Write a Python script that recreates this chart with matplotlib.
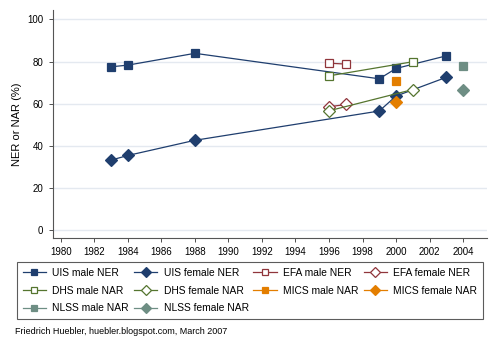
import matplotlib
matplotlib.use("Agg")
import matplotlib.pyplot as plt

plt.rcParams['font.family'] = ['Liberation Sans', 'DejaVu Sans']

# data
uis_years = [1983, 1984, 1988, 1999, 2000, 2003]
uis_male = [77.5, 78.3, 83.9, 71.8, 76.7, 82.7]
uis_female = [33.2, 35.4, 42.6, 56.5, 63.6, 72.5]
efa_years = [1996, 1997]
efa_male = [79.2, 78.8]
efa_female = [58.5, 59.6]
dhs_years = [1996, 2001]
dhs_male = [73.2, 79.9]
dhs_female = [56.6, 66.7]
mics_years = [2000]
mics_male = [70.9]
mics_female = [60.9]
nlss_years = [2004]
nlss_male = [77.7]
nlss_female = [66.7]

navy = '#1f3e6e'
maroon = '#90353b'
green = '#55752f'
orange = '#e37e00'
teal = '#6e8e84'

fig = plt.figure(figsize=(5, 3.5), dpi=100)
ax = fig.add_axes([0.105, 0.32, 0.868, 0.651])

series = [
    (uis_years, uis_male, navy, 's', True, 'UIS male NER'),
    (uis_years, uis_female, navy, 'D', True, 'UIS female NER'),
    (efa_years, efa_male, maroon, 's', False, 'EFA male NER'),
    (efa_years, efa_female, maroon, 'D', False, 'EFA female NER'),
    (dhs_years, dhs_male, green, 's', False, 'DHS male NAR'),
    (dhs_years, dhs_female, green, 'D', False, 'DHS female NAR'),
    (mics_years, mics_male, orange, 's', True, 'MICS male NAR'),
    (mics_years, mics_female, orange, 'D', True, 'MICS female NAR'),
    (nlss_years, nlss_male, teal, 's', True, 'NLSS male NAR'),
    (nlss_years, nlss_female, teal, 'D', True, 'NLSS female NAR'),
]

handles = []
for x, y, c, m, filled, lab in series:
    ms = 5.5 if m == 's' else 6
    h, = ax.plot(x, y, color=c, lw=0.9, marker=m, ms=ms,
                 mfc=c if filled else 'white', mec=c, mew=0.9, label=lab,
                 zorder=3)
    handles.append(h)

ax.set_xlim(1979.5, 2005.4)
ax.set_ylim(-3.8, 104.4)
ax.set_xticks(range(1980, 2005, 2))
ax.set_yticks(range(0, 101, 20))
ax.tick_params(labelsize=7, length=3, width=0.6, color='#333333')
ax.yaxis.grid(True, color='#e4e9f0', lw=1)
ax.set_axisbelow(True)
for s in ['top', 'right']:
    ax.spines[s].set_visible(False)
for s in ['left', 'bottom']:
    ax.spines[s].set_color('#555555')
    ax.spines[s].set_linewidth(0.8)
ax.set_ylabel('NER or NAR (%)', fontsize=8)

# legend fills column by column, so reorder to get the row layout
order = [0, 4, 8, 1, 5, 9, 2, 6, 3, 7]
leg = fig.legend(handles=[handles[i] for i in order], ncol=4,
                 loc='upper left',
                 bbox_to_anchor=(0.034, 0.086, 0.932, 0.165), mode='expand',
                 fontsize=7.4, frameon=True, fancybox=False, borderaxespad=0,
                 handlelength=2.3, handletextpad=0.6, columnspacing=0.8,
                 labelspacing=0.75, borderpad=0.55, markerscale=0.9)
leg.get_frame().set_edgecolor('#333333')
leg.get_frame().set_linewidth(0.8)

fig.text(0.03, 0.046, 'Friedrich Huebler, huebler.blogspot.com, March 2007',
         fontsize=6.5)

fig.savefig('out.png', dpi=100)
